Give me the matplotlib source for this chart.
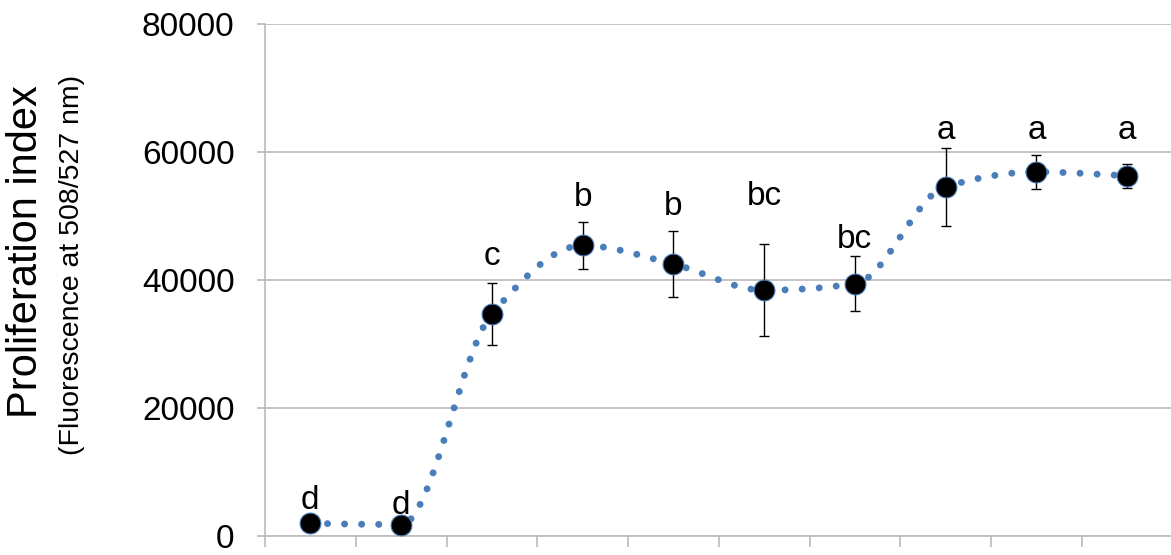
import matplotlib.pyplot as plt
from matplotlib.path import Path
from matplotlib.patches import PathPatch

plt.rcParams['font.family'] = ['Liberation Sans', 'DejaVu Sans']

# -------------------------------
# Data
# -------------------------------
groups = list(range(10))
means = [2000, 1800, 34700, 45400, 42500, 38400, 39400, 54600, 56900, 56300]
errors = [0, 0, 4900, 3700, 5200, 7200, 4300, 6100, 2600, 1900]
letters = ["d", "d", "c", "b", "b", "bc", "bc", "a", "a", "a"]
letter_y = [4300, 3400, 42300, 51500, 50100, 51800, 45000, 62000, 62000, 62000]
y_ticks = [0, 20000, 40000, 60000, 80000]

LINE_BLUE = "#4a7ebb"
GRID = "#bfbfbf"


def smooth_path(xs, ys):
    # monotone cubic (no overshoot), written as bezier segments
    n = len(xs)
    d = [(ys[i + 1] - ys[i]) / (xs[i + 1] - xs[i]) for i in range(n - 1)]
    m = [d[0]] + [0.0] * (n - 2) + [d[-1]]
    for i in range(1, n - 1):
        if d[i - 1] * d[i] > 0:
            m[i] = 2.0 / (1.0 / d[i - 1] + 1.0 / d[i])
    verts = [(xs[0], ys[0])]
    codes = [Path.MOVETO]
    for i in range(n - 1):
        h = xs[i + 1] - xs[i]
        verts += [(xs[i] + h / 3, ys[i] + m[i] * h / 3),
                  (xs[i + 1] - h / 3, ys[i + 1] - m[i + 1] * h / 3),
                  (xs[i + 1], ys[i + 1])]
        codes += [Path.CURVE4] * 3
    return Path(verts, codes)


fig = plt.figure(figsize=(11.71, 5.55), dpi=100)
ax = fig.add_axes([0.2263, 0.034, 0.775, 0.9228])

ax.set_xlim(-0.5, 9.5)
ax.set_ylim(0, 80000)

# dotted smoothed line
patch = PathPatch(smooth_path(groups, means), fill=False, edgecolor=LINE_BLUE,
                  lw=5.0, linestyle=(0, (0.01, 2.45)), zorder=3)
patch.set_capstyle("round")
ax.add_patch(patch)

# error bars
ax.errorbar(groups, means, yerr=errors, fmt="none", ecolor="black",
            elinewidth=1.0, capsize=3.5, capthick=1.0, zorder=4)

# markers
ax.plot(groups, means, linestyle="none", marker="o", markersize=15,
        markerfacecolor="black", markeredgecolor=LINE_BLUE, markeredgewidth=0.8,
        zorder=5)

# significance letters
for x, lab, ly in zip(groups, letters, letter_y):
    ax.text(x, ly, lab, ha="center", va="baseline", fontsize=24, zorder=6)

# axes styling
ax.set_yticks(y_ticks)
ax.set_yticklabels([str(v) for v in y_ticks], fontsize=24)
ax.yaxis.grid(True, color=GRID, lw=1.3)
ax.set_axisbelow(True)

ax.set_xticks([g + 0.5 for g in groups[:-1]] + [-0.5])
ax.set_xticklabels([])
ax.tick_params(axis="x", direction="out", length=8, width=1.3, color=GRID)
ax.tick_params(axis="y", direction="out", length=6, width=1.3, color=GRID, pad=16)

for side in ["top", "right"]:
    ax.spines[side].set_visible(False)
for side in ["left", "bottom"]:
    ax.spines[side].set_color(GRID)
    ax.spines[side].set_linewidth(1.3)

fig.text(0.022, 0.546, "Proliferation index", rotation=90, fontsize=30,
         ha="center", va="center")
fig.text(0.0615, 0.523, "(Fluorescence at 508/527 nm)", rotation=90, fontsize=20.5,
         ha="center", va="center")

fig.savefig("out.png", dpi=100)
